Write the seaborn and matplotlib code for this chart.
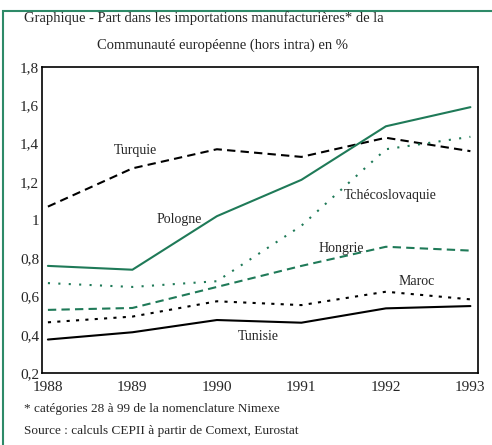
import matplotlib
matplotlib.use("Agg")
from matplotlib import pyplot as plt
from matplotlib.patches import Rectangle
import seaborn as sns
import pandas as pd

sns.set_style("white")
plt.rcParams['font.family'] = ['Liberation Serif', 'DejaVu Serif']

years = [1988, 1989, 1990, 1991, 1992, 1993]
turquie = [1.07, 1.27, 1.37, 1.33, 1.43, 1.36]
pologne = [0.76, 0.74, 1.02, 1.21, 1.49, 1.59]
tchecoslovaquie = [0.67, 0.65, 0.68, 0.97, 1.37, 1.435]
hongrie = [0.53, 0.54, 0.65, 0.76, 0.86, 0.84]
maroc = [0.465, 0.495, 0.575, 0.555, 0.625, 0.585]
tunisie = [0.375, 0.413, 0.477, 0.463, 0.538, 0.55]

green = '#1f7a58'
series = {
    'Turquie': (turquie, 'black', (4, 2.5)),
    'Pologne': (pologne, green, None),
    'Tchécoslovaquie': (tchecoslovaquie, green, (1, 4)),
    'Hongrie': (hongrie, green, (4, 2.5)),
    'Maroc': (maroc, 'black', (1.5, 3)),
    'Tunisie': (tunisie, 'black', None),
}

rows = []
for name, (vals, c, d) in series.items():
    for yr, v in zip(years, vals):
        rows.append({'annee': yr, 'part': v, 'pays': name})
df = pd.DataFrame(rows)

fig = plt.figure(figsize=(4.92, 4.45), dpi=100)
ax = fig.add_axes([42 / 492, 1 - 373 / 445, 436 / 492, 306 / 445])

for name, (vals, c, d) in series.items():
    sub = df[df['pays'] == name]
    sns.lineplot(data=sub, x='annee', y='part', color=c, lw=1.5, ax=ax)
    if d is not None:
        ax.lines[-1].set_dashes(d)

ax.set_xlim(1987.93, 1993.09)
ax.set_ylim(0.2, 1.8)
ax.set_xticks(years)
ax.set_xticklabels([str(y) for y in years], fontsize=11)
yt = [0.2, 0.4, 0.6, 0.8, 1.0, 1.2, 1.4, 1.6, 1.8]
ax.set_yticks(yt)
ax.set_yticklabels(['0,2', '0,4', '0,6', '0,8', '1', '1,2', '1,4', '1,6', '1,8'], fontsize=11)
ax.tick_params(axis='y', length=0, pad=2)
ax.tick_params(axis='x', length=0, pad=6)
ax.set_xlabel('')
ax.set_ylabel('')
for s in ax.spines.values():
    s.set_color('black')
    s.set_linewidth(1.2)

labels = [('Turquie', 1988.78, 1.365), ('Pologne', 1989.28, 1.005),
          ('Tchécoslovaquie', 1991.5, 1.13), ('Hongrie', 1991.2, 0.85),
          ('Maroc', 1992.15, 0.68), ('Tunisie', 1990.25, 0.39)]
for t, x, y in labels:
    ax.text(x, y, t, fontsize=10, ha='left', va='center')

fig.text(24 / 492, 1 - 18 / 445, 'Graphique - Part dans les importations manufacturières* de la',
         fontsize=10.5, va='center')
fig.text(97 / 492, 1 - 45 / 445, 'Communauté européenne (hors intra) en %',
         fontsize=10.5, va='center')
fig.text(24 / 492, 1 - 409 / 445, '* catégories 28 à 99 de la nomenclature Nimexe',
         fontsize=9.5, va='center')
fig.text(24 / 492, 1 - 431 / 445, 'Source : calculs CEPII à partir de Comext, Eurostat',
         fontsize=9.5, va='center')

fig.patches.append(Rectangle((3 / 492, -0.01), 1.0, 1 - 11 / 445 + 0.01,
                             transform=fig.transFigure, fill=False,
                             edgecolor='#2e8a68', lw=1.5))

fig.savefig('out.png', dpi=100)
